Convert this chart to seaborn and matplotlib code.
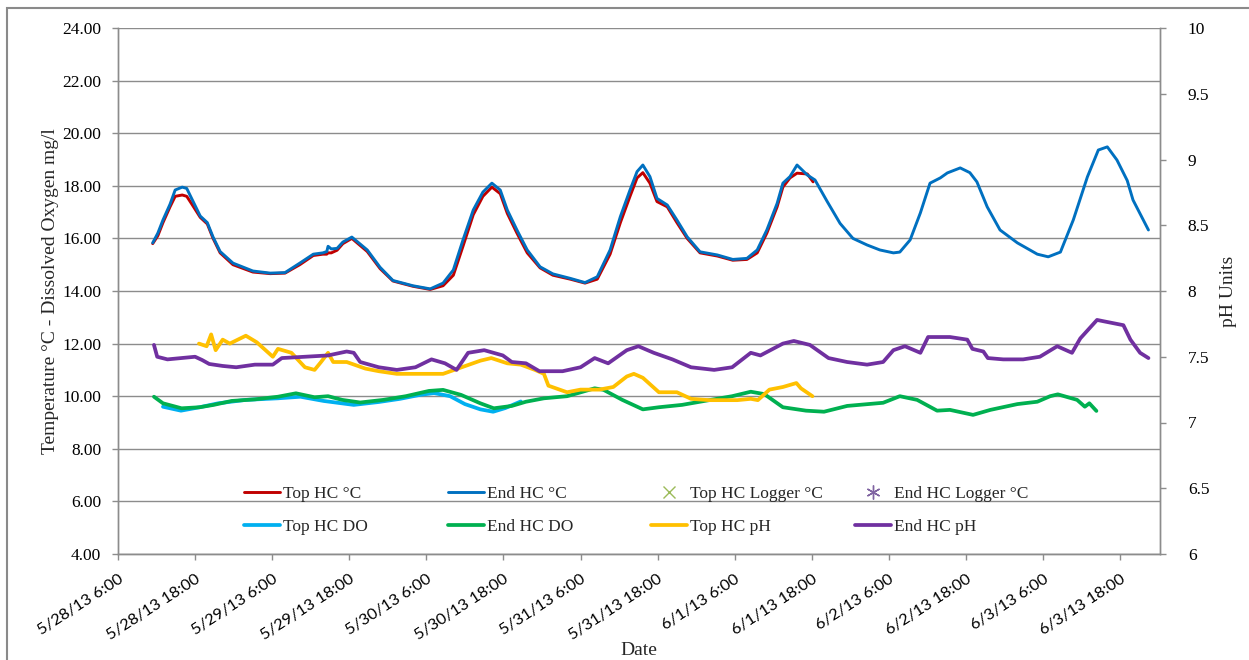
import matplotlib
matplotlib.use("Agg")
import numpy as np
import pandas as pd
import matplotlib.pyplot as plt
import matplotlib.dates as mdates
from matplotlib.ticker import FixedLocator, FuncFormatter
from matplotlib.patches import Rectangle
from matplotlib.legend import Legend
import seaborn as sns

sns.set_style("white")
plt.rcParams["font.family"] = ["Liberation Serif", "DejaVu Serif"]

START = pd.Timestamp("2013-05-28 00:00")

# Readings: hours since 5/28/13 0:00 and measured values
end_temp_hours = [11.4, 12.2, 13.0, 14.1, 14.9, 16.0, 16.7, 17.5, 18.8, 19.9, 20.8, 21.9,
                  23.9, 27.0, 29.7, 32.0, 34.3, 36.4, 37.9, 38.5, 38.7, 39.2, 40.1, 41.0,
                  42.4, 44.8, 46.8, 48.8, 51.9, 54.6, 56.6, 58.2, 59.7, 61.3, 62.8, 64.2,
                  65.5, 66.6, 68.1, 69.7, 71.7, 73.7, 76.4, 78.7, 80.6, 82.6, 84.2, 85.7,
                  86.8, 87.7, 88.8, 89.9, 91.5, 93.0, 94.6, 96.6, 99.3, 101.7, 103.9, 105.5,
                  107.0, 108.6, 109.5, 110.6, 111.7, 113.3, 114.5, 116.4, 118.4, 120.4, 122.6,
                  124.6, 126.7, 127.7, 129.3, 130.9, 132.4, 134.0, 135.1, 137.1, 138.6, 139.7,
                  141.3, 143.3, 146.0, 149.1, 150.8, 152.7, 154.7, 156.9, 158.6, 160.0, 161.5,
                  163.1, 164.0, 166.4]
end_temp = [15.83, 16.2, 16.7, 17.3, 17.84, 17.95, 17.9, 17.5, 16.85, 16.6, 16.05, 15.5,
            15.06, 14.76, 14.68, 14.7, 15.06, 15.4, 15.45, 15.5, 15.7, 15.6, 15.62, 15.86,
            16.05, 15.56, 14.9, 14.4, 14.2, 14.08, 14.3, 14.8, 15.94, 17.08, 17.76, 18.1,
            17.84, 17.08, 16.32, 15.56, 14.92, 14.65, 14.48, 14.32, 14.54, 15.56, 16.83, 17.84,
            18.54, 18.79, 18.35, 17.52, 17.27, 16.7, 16.06, 15.49, 15.37, 15.2, 15.24, 15.56,
            16.32, 17.33, 18.1, 18.35, 18.79, 18.41, 18.22, 17.4, 16.57, 16.0, 15.75,
            15.56, 15.45, 15.48, 15.94, 16.97, 18.1, 18.3, 18.49, 18.68, 18.5, 18.15,
            17.2, 16.32, 15.83, 15.4, 15.3, 15.48, 16.7, 18.34, 19.36, 19.48, 18.98,
            18.2, 17.46, 16.32]

top_temp_hours = end_temp_hours[:66] + [114.2]
top_temp = [15.8, 16.1, 16.6, 17.2, 17.6, 17.65, 17.6, 17.3, 16.8, 16.55, 16.0, 15.45,
            15.0, 14.72, 14.66, 14.68, 15.0, 15.35, 15.4, 15.4, 15.45, 15.45, 15.55, 15.8,
            16.0, 15.5, 14.85, 14.38, 14.18, 14.06, 14.2, 14.6, 15.7, 16.9, 17.6, 17.95,
            17.7, 16.95, 16.2, 15.45, 14.88, 14.6, 14.45, 14.3, 14.45, 15.4, 16.6, 17.6,
            18.3, 18.5, 18.1, 17.4, 17.2, 16.6, 16.0, 15.45, 15.33, 15.17, 15.2, 15.45,
            16.2, 17.2, 17.95, 18.3, 18.48, 18.45, 18.15]

top_do_hours = [13.0, 15.8, 18.7, 21.6, 25.9, 30.9, 34.4, 38.0, 42.7, 46.6, 49.9, 53.0,
                55.2, 57.7, 60.0, 62.4, 64.4, 66.3, 68.7]
top_do = [9.6, 9.45, 9.58, 9.73, 9.86, 9.92, 9.98, 9.82, 9.67, 9.78, 9.9, 10.05,
          10.12, 10.0, 9.7, 9.5, 9.41, 9.55, 9.8]

end_do_hours = [11.6, 13.0, 15.9, 18.7, 20.9, 23.7, 27.3, 30.9, 33.7, 36.6, 38.7, 40.9,
                43.7, 47.3, 50.8, 54.4, 56.6, 59.4, 62.4, 64.5, 67.3, 69.5, 72.3, 75.9,
                80.2, 81.6, 84.5, 87.7, 90.2, 93.8, 97.3, 101.6, 104.5, 106.6, 109.5, 113.1,
                115.9, 119.5, 125.1, 127.7, 130.4, 133.5, 135.5, 139.1, 141.8, 146.0, 149.1,
                151.1, 152.3, 155.3, 156.5, 157.2, 158.3]
end_do = [9.98, 9.73, 9.54, 9.58, 9.67, 9.82, 9.88, 9.98, 10.11, 9.96, 10.0, 9.86,
          9.76, 9.86, 10.0, 10.2, 10.24, 10.05, 9.73, 9.54, 9.63, 9.79, 9.92, 10.0,
          10.3, 10.24, 9.86, 9.5, 9.58, 9.67, 9.82, 10.0, 10.17, 10.08, 9.58, 9.45,
          9.41, 9.63, 9.75, 10.0, 9.86, 9.45, 9.48, 9.29, 9.48, 9.7, 9.79,
          10.0, 10.07, 9.86, 9.6, 9.73, 9.44]

top_ph_hours = [18.6, 19.8, 20.5, 21.2, 22.3, 23.4, 25.9, 27.6, 30.1, 30.9, 33.0, 35.1,
                36.6, 37.6, 38.7, 39.5, 41.6, 44.5, 46.6, 49.4, 53.0, 56.6, 59.5, 62.4,
                64.1, 66.6, 68.7, 70.9, 72.3, 73.0, 75.9, 78.0, 80.9, 83.1, 85.2, 86.3,
                87.7, 90.2, 93.0, 95.2, 98.0, 102.4, 104.5, 105.6, 107.4, 109.5, 111.6,
                112.3, 114.1]
top_ph = [7.60, 7.58, 7.67, 7.55, 7.63, 7.60, 7.66, 7.61, 7.50, 7.56, 7.53, 7.42,
          7.40, 7.46, 7.53, 7.46, 7.46, 7.41, 7.39, 7.37, 7.37, 7.37, 7.42, 7.47,
          7.49, 7.45, 7.44, 7.40, 7.37, 7.28, 7.23, 7.25, 7.25, 7.27, 7.35, 7.37,
          7.34, 7.23, 7.23, 7.18, 7.17, 7.17, 7.18, 7.17, 7.25, 7.27, 7.30,
          7.26, 7.20]

end_ph_hours = [11.6, 12.1, 13.7, 18.0, 19.1, 20.2, 22.3, 24.4, 27.3, 30.1, 31.5, 35.1,
                38.7, 41.6, 42.7, 43.7, 46.6, 49.4, 52.3, 54.8, 56.9, 58.7, 60.5, 63.0,
                65.9, 67.3, 69.5, 71.6, 75.2, 78.0, 80.2, 82.3, 85.2, 87.0, 89.4, 92.3,
                95.2, 98.8, 101.6, 104.5, 106.0, 109.5, 111.2, 113.7, 116.6, 119.5, 122.6,
                125.1, 126.7, 128.5, 130.9, 132.1, 135.5, 138.2, 139.0, 140.7, 141.4, 143.8,
                146.9, 149.5, 152.2, 154.5, 155.8, 158.4, 159.4, 162.5, 163.6, 165.1, 166.4]
end_ph = [7.59, 7.50, 7.48, 7.50, 7.475, 7.445, 7.43, 7.42, 7.44, 7.44, 7.49, 7.50,
          7.51, 7.54, 7.53, 7.46, 7.42, 7.40, 7.42, 7.48, 7.45, 7.40, 7.53, 7.55,
          7.51, 7.46, 7.45, 7.39, 7.39, 7.42, 7.49, 7.45, 7.55, 7.58, 7.53, 7.48,
          7.42, 7.40, 7.42, 7.53, 7.51, 7.60, 7.62, 7.59, 7.49, 7.46, 7.44,
          7.46, 7.55, 7.58, 7.53, 7.65, 7.65, 7.63, 7.56, 7.54, 7.49, 7.48,
          7.48, 7.50, 7.58, 7.53, 7.64, 7.78, 7.77, 7.74, 7.63, 7.53, 7.49]

# Logger series carry no readings in this period
top_logger_hours, top_logger = [], []
end_logger_hours, end_logger = [], []

temp_ticks = [4, 6, 8, 10, 12, 14, 16, 18, 20, 22, 24]
ph_ticks = [6, 6.5, 7, 7.5, 8, 8.5, 9, 9.5, 10]
x_start_hours, x_end_hours = 6.0, 168.2


def frame(hours, values):
    return pd.DataFrame({"time": START + pd.to_timedelta(hours, unit="h"),
                         "value": values})


fig, ax = plt.subplots(figsize=(12.49, 6.60), dpi=100)
fig.subplots_adjust(left=118 / 1249, right=1160 / 1249,
                    bottom=1 - 554 / 660, top=1 - 28 / 660)
ax2 = ax.twinx()

LW_T, LW_Q = 2.1, 2.7
series_left = [
    ("Top HC °C", top_temp_hours, top_temp, "#C00000", LW_T),
    ("End HC °C", end_temp_hours, end_temp, "#0070C0", LW_T),
    ("Top HC DO", top_do_hours, top_do, "#00B0F0", LW_Q),
    ("End HC DO", end_do_hours, end_do, "#00B050", LW_Q),
]
handles = {}
for name, hrs, vals, col, lw in series_left:
    sns.lineplot(data=frame(hrs, vals), x="time", y="value", ax=ax, color=col,
                 linewidth=lw, legend=False, estimator=None)
    handles[name] = ax.get_lines()[-1]

lg1, = ax.plot(START + pd.to_timedelta(top_logger_hours, unit="h"), top_logger,
               ls="none", marker="x", ms=9, mew=1.0, color="#9BBB59")
lg2, = ax.plot(START + pd.to_timedelta(end_logger_hours, unit="h"), end_logger,
               ls="none", marker=(6, 2, 0), ms=10, mew=1.0, color="#8064A2")
handles["Top HC Logger °C"] = lg1
handles["End HC Logger °C"] = lg2

for name, hrs, vals, col in [("Top HC pH", top_ph_hours, top_ph, "#FFC000"),
                             ("End HC pH", end_ph_hours, end_ph, "#7030A0")]:
    sns.lineplot(data=frame(hrs, vals), x="time", y="value", ax=ax2, color=col,
                 linewidth=LW_Q, legend=False, estimator=None)
    handles[name] = ax2.get_lines()[-1]

GRID = "#8C8C8C"
ax.set_ylim(4, 24)
ax2.set_ylim(6, 10)
ax.set_xlim(START + pd.Timedelta(hours=x_start_hours), START + pd.Timedelta(hours=x_end_hours))

ax.yaxis.set_major_locator(FixedLocator(temp_ticks))
ax.yaxis.set_major_formatter(FuncFormatter(lambda v, p: f"{v:.2f}"))
ax2.yaxis.set_major_locator(FixedLocator(ph_ticks))
ax2.yaxis.set_major_formatter(FuncFormatter(lambda v, p: f"{v:g}"))

ax.xaxis.set_major_locator(mdates.HourLocator(byhour=[6, 18]))


def date_label(v, p):
    d = mdates.num2date(v)
    return f"{d.month}/{d.day}/{d:%y} {d.hour}:{d:%M}"


ax.xaxis.set_major_formatter(FuncFormatter(date_label))

ax.grid(axis="y", color=GRID, linewidth=1.0)
ax.grid(axis="x", visible=False)
ax2.grid(False)
ax.set_axisbelow(True)

for a in (ax, ax2):
    a.spines["top"].set_visible(False)
    for side in ("left", "right", "bottom"):
        a.spines[side].set_color(GRID)
        a.spines[side].set_linewidth(1.0)

ax.tick_params(axis="y", which="major", left=True, length=4, width=1, color=GRID,
               pad=8, labelsize=12.5, labelcolor="black")
ax2.tick_params(axis="y", which="major", right=True, length=4, width=1, color=GRID,
                pad=16, labelsize=12.5, labelcolor="black")
ax.tick_params(axis="x", which="major", bottom=True, length=4, width=1, color=GRID,
               pad=9, labelsize=11.8, labelcolor="black")
for lbl in ax.get_xticklabels():
    lbl.set_rotation(33)
    lbl.set_ha("right")
    lbl.set_va("top")
    lbl.set_rotation_mode("anchor")
    lbl.set_family(["Lato", "DejaVu Sans"])

ax.set_xlabel("Date", fontsize=14)
ax.xaxis.set_label_coords(0.5, -0.168)
ax.set_ylabel("Temperature °C - Dissolved Oxygen mg/l", fontsize=14)
ax.yaxis.set_label_coords(-0.057, 0.5)
ax2.set_ylabel("pH Units", fontsize=14)
ax2.yaxis.set_label_coords(1.0576, 0.5)

# Legend laid out as four evenly spaced columns of two rows each
columns = [("Top HC °C", "Top HC DO"), ("End HC °C", "End HC DO"),
           ("Top HC Logger °C", "Top HC pH"), ("End HC Logger °C", "End HC pH")]
col_x = [0.1209, 0.3167, 0.5115, 0.7073]
for cx, names in zip(col_x, columns):
    leg = Legend(ax2, [handles[n] for n in names], list(names), loc="upper left",
                 bbox_to_anchor=(cx, 0.1294), frameon=False, fontsize=12.5,
                 borderpad=0, borderaxespad=0, handlelength=2.05,
                 handletextpad=0.2, labelspacing=0.98)
    ax2.add_artist(leg)

fig.patches.append(Rectangle((7 / 1249, -0.05), 1.2, 1 - 8 / 660 + 0.05,
                             transform=fig.transFigure, fill=False,
                             edgecolor="#8A8A8A", linewidth=1.5))

fig.savefig("out.png", dpi=100)
